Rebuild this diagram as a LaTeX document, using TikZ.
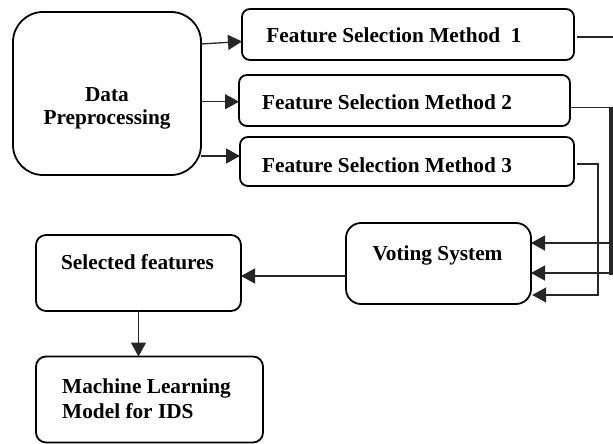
\documentclass[tikz,border=0pt]{standalone}
\usepackage{fontspec}
\setmainfont{Liberation Serif}
\usetikzlibrary{arrows.meta,calc}

\tikzset{
  box/.style={draw=black, line width=1.8pt, rounded corners=#1, outer sep=0pt, inner sep=0pt},
  box/.default=9pt,
  lbl/.style={inner sep=0pt, font=\fontsize{21.3}{23}\selectfont\bfseries},
  conn/.style={draw=black!85, line width=1.3pt},
  arr/.style={conn, -{Triangle[length=14pt,width=15pt]}}
}

\begin{document}
\begin{tikzpicture}[x=1pt,y=-1pt]
\useasboundingbox (0,0) rectangle (613,444);

% boxes
\node[box=30pt, minimum width=188pt, minimum height=163pt] (dp)   at (107,93.5) {};
\node[box=8pt,  minimum width=332pt, minimum height=51pt]  (fsm1) at (408,34.5) {};
\node[box=8pt,  minimum width=331pt, minimum height=51pt]  (fsm2) at (404.5,100.5) {};
\node[box=8pt,  minimum width=334pt, minimum height=49pt]  (fsm3) at (407,161.5) {};
\node[box=15pt, minimum width=185pt, minimum height=81pt]  (vote) at (438.5,263.5) {};
\node[box=10pt, minimum width=205pt, minimum height=76pt]  (sel)  at (138.5,273) {};
\node[box=10pt, minimum width=227pt, minimum height=86pt]  (ml)   at (149.5,399.5) {};

% labels
\node[lbl, align=center] (dptext) at (107,108.7) {Data\\Preprocessing};
\node[lbl, anchor=base] (fsm1text) at (394,43) {Feature Selection Method\ \ 1};
\node[lbl, anchor=base] (fsm2text) at (387,110) {Feature Selection Method 2};
\node[lbl, anchor=base] (fsm3text) at (387,172) {Feature Selection Method 3};
\node[lbl, anchor=base] (votetext) at (437.5,260) {Voting System};
\node[lbl, anchor=base] (seltext)  at (137.5,269) {Selected features};
\node[lbl, align=left, anchor=west, font=\fontsize{21.3}{25}\selectfont\bfseries] (mltext) at (62,398.3) {Machine Learning\\Model for IDS};

% preprocessing feeds the three selection methods
\draw[arr] (dp.east |- 0,44)    -- (fsm1.west |- 0,41.5);
\draw[arr] (dp.east |- 0,101.7) -- (fsm2.west |- 0,101.7);
\draw[arr] (dp.east |- 0,156)   -- (fsm3.west |- 0,156);

% bend points of the routes to the voting system
\coordinate (r1a) at (616,37);
\coordinate (r1b) at (616,243);
\coordinate (r2a) at (611.3,107.3);
\coordinate (r2b) at (611.3,273);
\coordinate (r3a) at (598,164);
\coordinate (r3b) at (598,295);

\draw[arr] ($(fsm1.east |- r1a)+(3,0)$) -- (r1a) -- (r1b) -- (vote.east |- r1b);
\draw[arr] (fsm2.east |- r2a) -- (r2a) -- (r2b) -- (vote.east |- r2b);
\draw[conn, line width=4pt] (r2a) -- ($(r2b)+(0,2)$);
\draw[arr, shorten >=1.2pt] ($(fsm3.east |- r3a)+(3,0)$) -- (r3a) -- (r3b) -- (vote.east |- r3b);

% voting result and model
\draw[arr] (vote.west |- 0,276) -- (sel.east |- 0,276);
\draw[arr] (sel.south) -- (sel.south |- ml.north);
\end{tikzpicture}
\end{document}
